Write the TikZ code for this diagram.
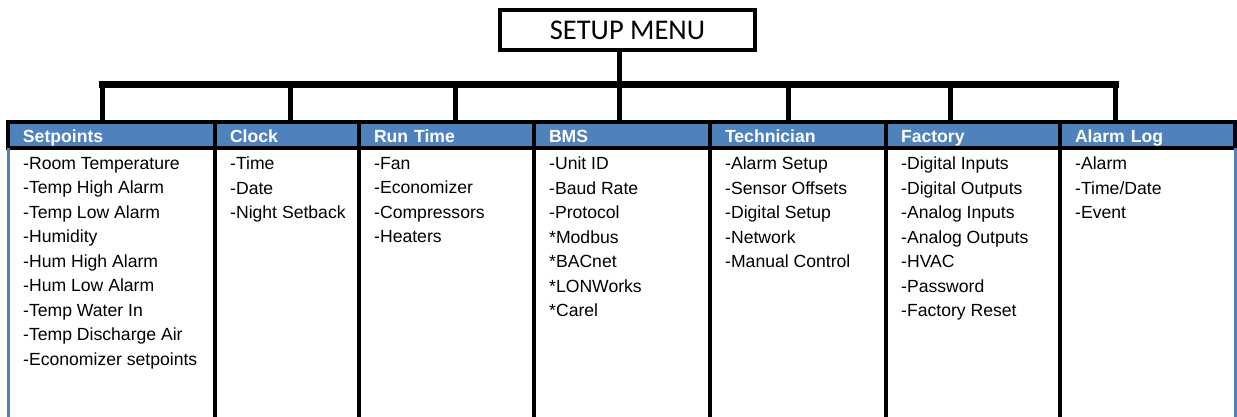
\documentclass[tikz,border=0pt]{standalone}
\usepackage{fontspec}
\setmainfont{Liberation Sans}
\newfontfamily\menufont{Carlito}
\usetikzlibrary{positioning,calc}
\definecolor{headblue}{RGB}{79,129,189}

\begin{document}
\begin{tikzpicture}[x=1pt,y=-1pt,
  menubox/.style={draw,line width=3.5pt,minimum width=255pt,minimum height=40pt,font=\menufont\fontsize{28.5}{28.5}\selectfont},
  headbox/.style={draw,fill=headblue,line width=3.5pt,outer sep=0pt,inner xsep=15pt,inner ysep=0pt,minimum height=26pt,text height=15.5pt,text depth=0pt,align=left,text=white,font=\bfseries\fontsize{17.6}{17.6}\selectfont},
  itemlist/.style={inner sep=0pt,align=left,font=\fontsize{17.6}{24.5}\selectfont},
  busline/.style={line width=7pt,line cap=rect},
  dropline/.style={line width=5pt},
  colline/.style={line width=4pt},
  edgeline/.style={headblue,line width=3pt}]
\useasboundingbox (0,0) rectangle (1237,417);
\coordinate (bot) at (0,417);

\node[menubox] (menu) at (627.5,30) {SETUP MENU};

% header row
\node[headbox,anchor=north west,text width=177pt] (setp) at (8,122) {Setpoints};
\node[headbox,text width=114pt,right=0pt of setp] (clock) {Clock};
\node[headbox,text width=145pt,right=0pt of clock] (run) {Run Time};
\node[headbox,text width=146pt,right=0pt of run] (bms) {BMS};
\node[headbox,text width=146pt,right=0pt of bms] (tech) {Technician};
\node[headbox,text width=144pt,right=0pt of tech] (fact) {Factory};
\node[headbox,text width=145pt,right=0pt of fact] (alarm) {Alarm Log};

% item lists
\node[itemlist,below right=9pt and 15pt of setp.south west] (setpl)
  {-Room Temperature\\-Temp High Alarm\\-Temp Low Alarm\\-Humidity\\-Hum High Alarm\\-Hum Low Alarm\\-Temp Water In\\-Temp Discharge Air\\-Economizer setpoints};
\node[itemlist,below right=9pt and 15pt of clock.south west] (clockl)
  {-Time\\-Date\\-Night Setback};
\node[itemlist,below right=9pt and 15pt of run.south west] (runl)
  {-Fan\\-Economizer\\-Compressors\\-Heaters};
\node[itemlist,below right=9pt and 15pt of bms.south west] (bmsl)
  {-Unit ID\\-Baud Rate\\-Protocol\\*Modbus\\*BACnet\\*LONWorks\\*Carel};
\node[itemlist,below right=9pt and 15pt of tech.south west] (techl)
  {-Alarm Setup\\-Sensor Offsets\\-Digital Setup\\-Network\\-Manual Control};
\node[itemlist,below right=9pt and 15pt of fact.south west] (factl)
  {-Digital Inputs\\-Digital Outputs\\-Analog Inputs\\-Analog Outputs\\-HVAC\\-Password\\-Factory Reset};
\node[itemlist,below right=9pt and 15pt of alarm.south west] (alarml)
  {-Alarm\\-Time/Date\\-Event};

% table columns
\draw[edgeline] (setp.south west) -- (setp.south west |- bot);
\draw[colline] (setp.south east) -- (setp.south east |- bot);
\draw[colline] (clock.south east) -- (clock.south east |- bot);
\draw[colline] (run.south east) -- (run.south east |- bot);
\draw[colline] (bms.south east) -- (bms.south east |- bot);
\draw[colline] (tech.south east) -- (tech.south east |- bot);
\draw[colline] (fact.south east) -- (fact.south east |- bot);
\draw[edgeline] (alarm.south east) -- (alarm.south east |- bot);

% bus
\coordinate (b1) at (102,85);
\coordinate (b2) at (290,85);
\coordinate (b3) at (455,85);
\coordinate (b4) at (619,85);
\coordinate (b5) at (788,85);
\coordinate (b6) at (950,85);
\coordinate (b7) at (1115,85);
\draw[dropline] (menu.south -| b4) -- (b4);
\draw[dropline] (b1) -- (b1 |- setp.north);
\draw[dropline] (b2) -- (b2 |- clock.north);
\draw[dropline] (b3) -- (b3 |- run.north);
\draw[dropline] (b4) -- (b4 |- bms.north);
\draw[dropline] (b5) -- (b5 |- tech.north);
\draw[dropline] (b6) -- (b6 |- fact.north);
\draw[dropline] (b7) -- (b7 |- alarm.north);
\draw[busline] (b1) -- (b7);
\end{tikzpicture}
\end{document}
